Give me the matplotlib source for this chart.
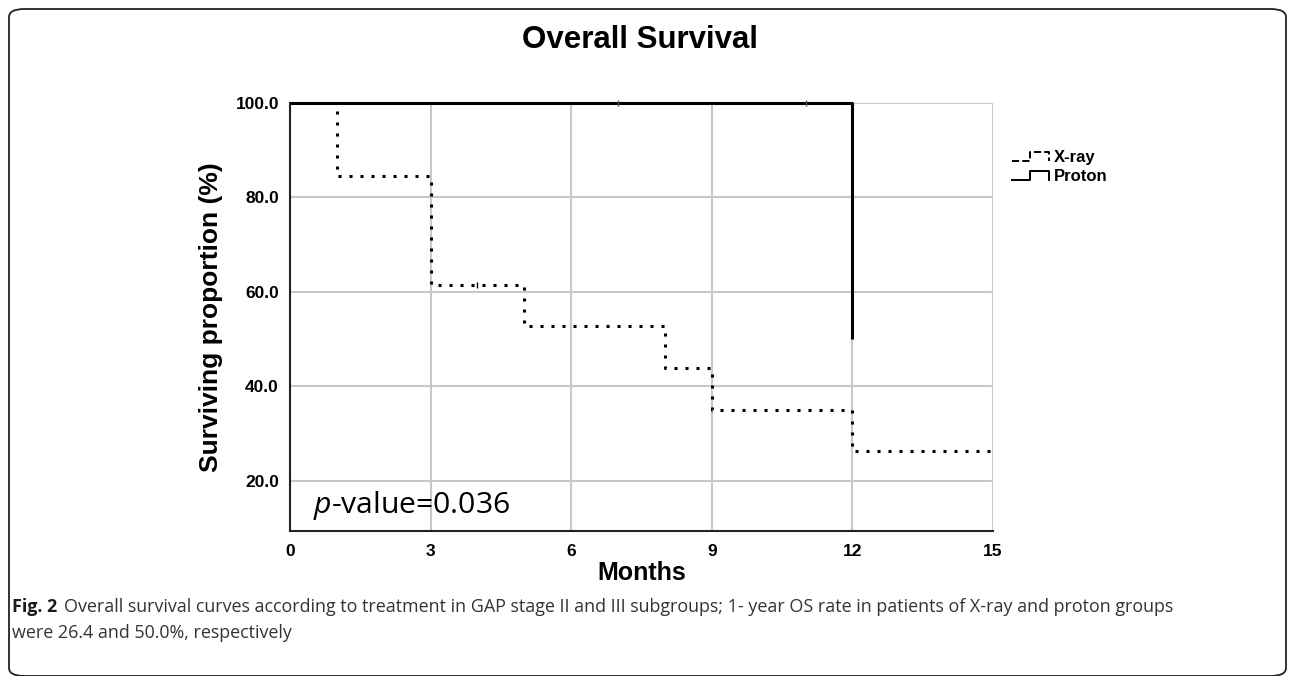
import matplotlib
matplotlib.use("Agg")
import matplotlib.pyplot as plt
from matplotlib.lines import Line2D
from matplotlib.legend_handler import HandlerLine2D
from matplotlib.patches import FancyBboxPatch

# ---- data ----
xray_times = [0, 1, 3, 5, 8, 9, 12, 15]
xray_surv = [100.0, 84.6, 61.5, 52.7, 43.9, 35.1, 26.4, 26.4]
xray_censor_t = [4]
xray_censor_s = [61.5]
proton_times = [0, 12, 12]
proton_surv = [100.0, 100.0, 50.0]
proton_censor_t = [7, 11]
proton_censor_s = [100.0, 100.0]
xticks = [0, 3, 6, 9, 12, 15]
yticks = [20, 40, 60, 80, 100]
series_names = ["X-ray", "Proton"]

plt.rcParams['mathtext.fontset'] = 'custom'
plt.rcParams['mathtext.it'] = 'Open Sans:italic'
plt.rcParams['mathtext.rm'] = 'Open Sans'

arial = ['Liberation Sans', 'DejaVu Sans']

fig = plt.figure(figsize=(12.92, 6.76), dpi=100)
ax = fig.add_axes([290/1292, 1-531/676, (993-290)/1292, (531-103)/676])

ax.step(xray_times, xray_surv, where='post', color='black', lw=2.2,
        linestyle=(0, (1, 2.6)), dash_capstyle='butt', zorder=3)
ax.plot(proton_times, proton_surv, color='black', lw=2.2, zorder=4,
        clip_on=False, solid_capstyle='butt')
ax.plot(xray_censor_t, xray_censor_s, linestyle='none', marker='|', color='black',
        ms=5, mew=1.0, zorder=5)
ax.plot(proton_censor_t, proton_censor_s, linestyle='none', marker='|', color='#555555',
        ms=5, mew=1.0, zorder=5, clip_on=False)

ax.set_xlim(0, 15)
ax.set_ylim(9.4, 100)
ax.set_xticks(xticks)
ax.set_yticks(yticks)
ax.set_xticklabels([str(v) for v in xticks], fontfamily=arial, fontweight='bold', fontsize=12.5)
ax.set_yticklabels([f"{v:.1f}" for v in yticks], fontfamily=arial, fontweight='bold', fontsize=12.5)
ax.tick_params(axis='x', length=0, pad=9)
ax.tick_params(axis='y', length=0, pad=8)
ax.grid(True, color='#c8c8c8', lw=1.5)
ax.set_axisbelow(True)
for s in ['top', 'right']:
    ax.spines[s].set_visible(False)
for s in ['left', 'bottom']:
    ax.spines[s].set_linewidth(1.5)
    ax.spines[s].set_color('#222222')

ax.set_xlabel("Months", fontfamily=arial, fontweight='bold', fontsize=18, labelpad=2)
ax.set_ylabel("Surviving proportion (%)", fontfamily=arial, fontweight='bold', fontsize=19, labelpad=9)

ax.text(0.5, 13.2, r"$\it{p}$-value=0.036", fontfamily='Open Sans', fontsize=21.7,
        fontweight='medium', color='black', va='baseline', ha='left')

fig.text(640/1292, 1-40/676, "Overall Survival", fontfamily=arial, fontweight='bold',
         fontsize=22.5, ha='center', va='center')


class StepHandler(HandlerLine2D):
    def create_artists(self, legend, orig_handle, xdescent, ydescent, width, height, fontsize, trans):
        x0 = -xdescent
        y0 = -ydescent + height * 0.1
        y1 = -ydescent + height * 0.9
        xs = [x0, x0 + width * 0.5, x0 + width * 0.5, x0 + width, x0 + width]
        ys = [y0, y0, y1, y1, y0]
        ln = Line2D(xs, ys, color=orig_handle.get_color(), lw=1.4,
                    linestyle=orig_handle.get_linestyle())
        ln.set_transform(trans)
        return [ln]


h1 = Line2D([], [], color='black', linestyle=(0, (2, 3)))
h2 = Line2D([], [], color='black', linestyle='-')
leg = fig.legend([h1, h2], series_names, loc='upper left',
                 bbox_to_anchor=(1012/1292, 1-150/676), frameon=False,
                 handler_map={Line2D: StepHandler()},
                 prop={'family': arial, 'weight': 'bold', 'size': 12},
                 handlelength=2.2, handletextpad=0.3, labelspacing=0.25,
                 borderpad=0, borderaxespad=0)

cap_size = 12.9
fig.text(12/1292, 1-607/676, r"Fig. 2", fontfamily='Open Sans', fontweight='bold',
         fontsize=cap_size, color='#1a1a1a', va='center', ha='left')
fig.text(64/1292, 1-607/676,
         "Overall survival curves according to treatment in GAP stage II and III subgroups; 1- year OS rate in patients of X-ray and proton groups",
         fontfamily='Open Sans', fontsize=cap_size, color='#333333', va='center', ha='left')
fig.text(12/1292, 1-633/676, "were 26.4 and 50.0%, respectively",
         fontfamily='Open Sans', fontsize=cap_size, color='#333333', va='center', ha='left')

box = FancyBboxPatch((9/1292, 0.0), (1286-9)/1292, 1-9/676 - 0.0,
                     boxstyle="round,pad=0,rounding_size=0.012",
                     transform=fig.transFigure, fill=False, edgecolor='#222222', lw=1.3,
                     clip_on=False)
fig.patches.append(box)

fig.savefig("out.png", dpi=100)
